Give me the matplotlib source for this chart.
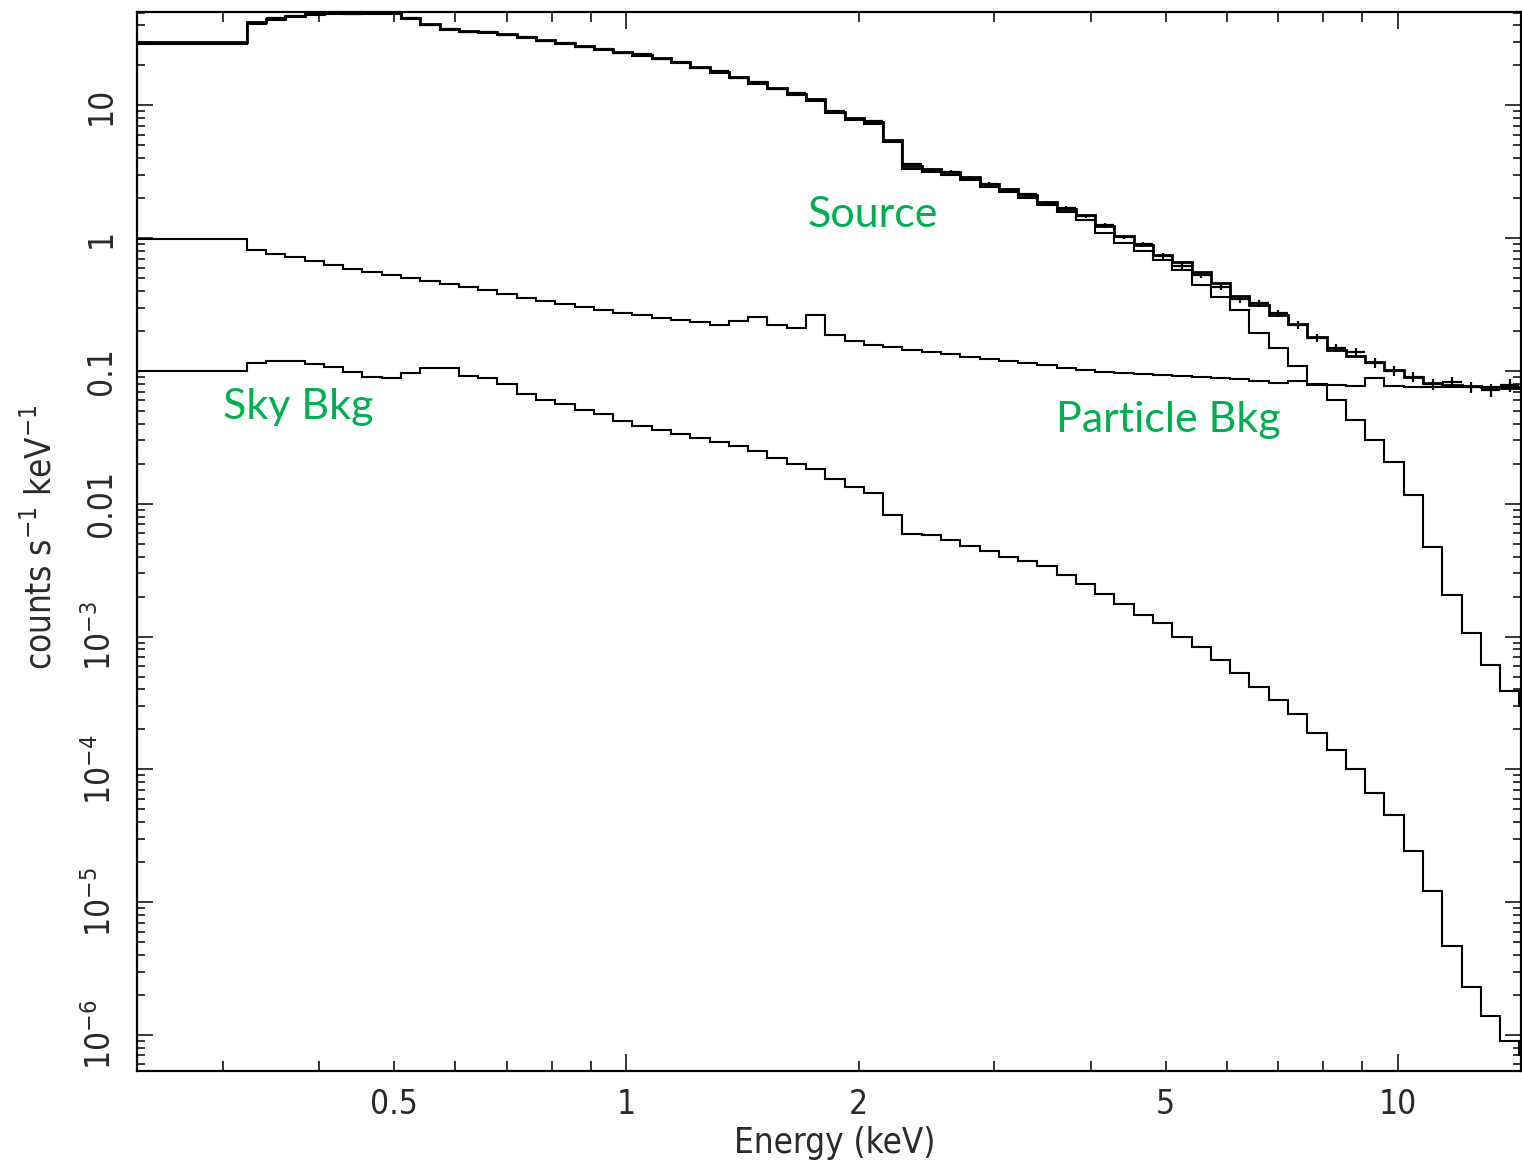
import matplotlib
matplotlib.use('Agg')
import matplotlib.pyplot as plt
import numpy as np
from matplotlib import font_manager as fm
from matplotlib.ticker import FixedLocator, FixedFormatter, NullFormatter

# ---------------- data ----------------
energy_edges = [0.232, 0.322, 0.3411, 0.3613, 0.3827, 0.4054, 0.4294, 0.4548, 0.4818,
                0.5103, 0.5406, 0.5726, 0.6065, 0.6425, 0.6805, 0.7208, 0.7636, 0.8088,
                0.8567, 0.9075, 0.9612, 1.0182, 1.0785, 1.1424, 1.2101, 1.2818, 1.3577,
                1.4382, 1.5234, 1.6137, 1.7093, 1.8106, 1.9179, 2.0315, 2.1519, 2.2794,
                2.4145, 2.5575, 2.7091, 2.8696, 3.0396, 3.2198, 3.4106, 3.6127, 3.8267,
                4.0535, 4.2937, 4.5481, 4.8176, 5.1031, 5.4055, 5.7258, 6.0651, 6.4245,
                6.8052, 7.2085, 7.6356, 8.0881, 8.5674, 9.0750, 9.6128, 10.182, 10.786,
                11.425, 12.102, 12.819, 13.579, 14.383, 15.235]

source_total = [29.9,
                42.1, 44.6, 46.9, 48.6, 49.5, 49.5, 49.5, 49.5, 45.3, 40.9,
                37.5, 36.2, 35.6, 34.4, 32.7, 31.0, 29.4, 27.9, 26.5, 25.2,
                23.9, 22.7, 21.1, 19.4, 17.8, 16.3, 14.9, 13.5, 12.1, 11.1,
                8.9, 8.0, 7.5, 5.47, 3.48, 3.31, 3.14, 2.88, 2.55, 2.34,
                2.11, 1.87, 1.66, 1.49, 1.23, 1.035, 0.886, 0.745, 0.660, 0.555,
                0.458, 0.366, 0.313, 0.263, 0.225, 0.180, 0.144, 0.130, 0.117, 0.101,
                0.090, 0.081, 0.078, 0.077, 0.0756, 0.0743, 0.0743]

source_component = [28.8,
                    41.2, 43.7, 46.1, 47.8, 48.8, 48.8, 48.9, 48.9, 44.7, 40.3,
                    36.9, 35.7, 35.1, 33.9, 32.3, 30.6, 29.0, 27.5, 26.2, 24.9,
                    23.6, 22.4, 20.8, 19.1, 17.5, 16.0, 14.6, 13.3, 11.9, 10.8,
                    8.7, 7.8, 7.3, 5.31, 3.33, 3.17, 3.00, 2.75, 2.43, 2.22,
                    2.00, 1.77, 1.57, 1.37, 1.09, 0.917, 0.798, 0.683, 0.574, 0.443,
                    0.360, 0.287, 0.193, 0.149, 0.109, 0.080, 0.0605, 0.0428, 0.0302, 0.0207,
                    0.0116, 0.0047, 0.00205, 0.00107, 0.00061, 0.00039, 0.00030]

particle_bkg = [0.98,
                0.812, 0.758, 0.719, 0.671, 0.632, 0.589, 0.559, 0.527, 0.500, 0.475,
                0.451, 0.428, 0.406, 0.379, 0.357, 0.338, 0.318, 0.302, 0.290, 0.275,
                0.263, 0.252, 0.241, 0.233, 0.223, 0.237, 0.254, 0.222, 0.210, 0.263,
                0.186, 0.168, 0.157, 0.151, 0.145, 0.139, 0.134, 0.128, 0.123, 0.119,
                0.114, 0.110, 0.105, 0.101, 0.098, 0.0965, 0.0946, 0.093, 0.0914, 0.0898,
                0.0883, 0.0868, 0.0838, 0.0810, 0.0838, 0.0783, 0.0783, 0.0769, 0.0883, 0.0769,
                0.0756, 0.0756, 0.0756, 0.0756, 0.0756, 0.0756, 0.0756]

sky_bkg = [0.0995,
           0.115, 0.119, 0.118, 0.113, 0.107, 0.0984, 0.0906, 0.0890, 0.096, 0.106,
           0.105, 0.0914, 0.0890, 0.0796, 0.0668, 0.0604, 0.0563, 0.0508, 0.0472, 0.0419,
           0.0386, 0.0359, 0.0338, 0.0312, 0.0292, 0.0272, 0.0249, 0.0221, 0.0198, 0.0182,
           0.0154, 0.0134, 0.0121, 0.0082, 0.0059, 0.0058, 0.0053, 0.0048, 0.0044, 0.0040,
           0.0037, 0.0034, 0.0029, 0.0025, 0.0021, 0.00175, 0.00146, 0.00126, 0.00100, 0.00083,
           0.00067, 0.00053, 0.00042, 0.00033, 0.00026, 1.89e-4, 1.41e-4, 1.0e-4, 6.6e-5, 4.5e-5,
           2.43e-5, 1.22e-5, 4.7e-6, 2.3e-6, 1.4e-6, 9.0e-7, 7.1e-7]

data_rate = [29.6,
             41.5, 45.2, 47.5, 48.9, 49.8, 49.2, 49.9, 49.3, 45.8, 40.5,
             37.9, 35.8, 35.9, 34.0, 33.0, 30.7, 29.7, 27.6, 26.8, 24.9,
             24.2, 22.4, 21.4, 19.2, 18.0, 16.1, 15.1, 13.3, 12.3, 11.0,
             9.0, 7.9, 7.6, 5.35, 3.6, 3.28, 3.17, 2.85, 2.58, 2.31,
             2.14, 1.85, 1.68, 1.47, 1.25, 1.02, 0.90, 0.735, 0.616, 0.527,
             0.428, 0.347, 0.324, 0.272, 0.222, 0.177, 0.149, 0.139, 0.115, 0.100,
             0.090, 0.080, 0.0824, 0.0756, 0.072, 0.0783, 0.0743]

data_frac_err = [0.008,
                 0.010, 0.010, 0.010, 0.010, 0.010, 0.010, 0.010, 0.010, 0.010, 0.010,
                 0.011, 0.011, 0.011, 0.011, 0.011, 0.011, 0.011, 0.011, 0.011, 0.011,
                 0.013, 0.013, 0.013, 0.013, 0.013, 0.013, 0.013, 0.013, 0.013, 0.013,
                 0.016, 0.017, 0.018, 0.020, 0.022, 0.022, 0.024, 0.025, 0.027, 0.028,
                 0.030, 0.032, 0.034, 0.036, 0.038, 0.040, 0.043, 0.046, 0.050, 0.052,
                 0.055, 0.058, 0.060, 0.063, 0.066, 0.070, 0.072, 0.075, 0.080, 0.085,
                 0.090, 0.095, 0.100, 0.100, 0.110, 0.110, 0.120]

x_major_ticks = [1, 10]
x_minor_ticks = [0.3, 0.4, 0.5, 0.6, 0.7, 0.8, 0.9, 2, 3, 4, 5, 6, 7, 8, 9]
x_minor_labels = {0.5: '0.5', 2: '2', 5: '5'}
y_major_ticks = [1e-6, 1e-5, 1e-4, 1e-3, 0.01, 0.1, 1, 10]
y_major_labels = [r'$10^{-6}$', r'$10^{-5}$', r'$10^{-4}$', r'$10^{-3}$', '0.01', '0.1', '1', '10']
annotations = [('Source', 808, 227), ('Sky Bkg', 223, 419), ('Particle Bkg', 1056, 432)]

# ---------------- font selection (narrow font like PGPLOT) ----------------
entries = fm.fontManager.ttflist
names = {f.name for f in entries}
if 'Liberation Sans Narrow' in names:
    AX_FAMILY, AX_STRETCH, AX_SIZE = 'Liberation Sans Narrow', 'normal', 26
    MT_PATTERN = 'Liberation Sans Narrow'
elif any(f.name == 'DejaVu Sans' and 'condensed' in str(f.stretch) for f in entries):
    AX_FAMILY, AX_STRETCH, AX_SIZE = 'DejaVu Sans', 'condensed', 24
    MT_PATTERN = 'DejaVu Sans:stretch=condensed'
else:
    AX_FAMILY, AX_STRETCH, AX_SIZE = 'DejaVu Sans', 'normal', 20
    MT_PATTERN = 'DejaVu Sans'

plt.rcParams['font.family'] = [AX_FAMILY, 'DejaVu Sans']
plt.rcParams['font.stretch'] = AX_STRETCH
plt.rcParams['mathtext.fontset'] = 'custom'
plt.rcParams['mathtext.rm'] = MT_PATTERN
plt.rcParams['mathtext.it'] = MT_PATTERN
plt.rcParams['mathtext.bf'] = MT_PATTERN
plt.rcParams['mathtext.sf'] = MT_PATTERN
TXT = '#2a2a2a'
W, H = 1522, 1165

fig = plt.figure(figsize=(W / 100, H / 100), dpi=100)
ax = fig.add_axes([137 / W, 1 - 1071 / H, (1521 - 137) / W, (1071 - 12) / H])
ax.set_xscale('log')
ax.set_yscale('log')

edges = np.array(energy_edges)
lw = 1.5
ax.stairs(sky_bkg, edges, baseline=None, color='k', lw=lw)
ax.stairs(particle_bkg, edges, baseline=None, color='k', lw=lw)
ax.stairs(source_component, edges, baseline=None, color='k', lw=lw)
ax.stairs(source_total, edges, baseline=None, color='k', lw=2.0)

lo, hi = edges[:-1], edges[1:]
xc = np.sqrt(lo * hi)
d = np.array(data_rate)
ax.errorbar(xc, d, xerr=[xc - lo, hi - xc], yerr=d * np.array(data_frac_err),
            fmt='none', ecolor='k', elinewidth=1.6, capsize=0)

ax.set_xlim(0.232, 14.45)
ax.set_ylim(5.35e-7, 50.5)

for s in ax.spines.values():
    s.set_linewidth(1.6)

ax.xaxis.set_major_locator(FixedLocator(x_major_ticks))
ax.xaxis.set_major_formatter(FixedFormatter([str(v) for v in x_major_ticks]))
ax.xaxis.set_minor_locator(FixedLocator(x_minor_ticks))
ax.xaxis.set_minor_formatter(FixedFormatter([x_minor_labels.get(v, '') for v in x_minor_ticks]))

ax.yaxis.set_major_locator(FixedLocator(y_major_ticks))
ax.yaxis.set_major_formatter(FixedFormatter(y_major_labels))
y_minor = [m * 10.0 ** e for e in range(-7, 2) for m in range(2, 10)]
ax.yaxis.set_minor_locator(FixedLocator(y_minor))
ax.yaxis.set_minor_formatter(NullFormatter())

ax.tick_params(which='both', direction='in', top=True, right=True, colors='k',
               labelcolor=TXT, labelsize=AX_SIZE, width=1.1)
ax.tick_params(axis='x', which='major', length=12.5, pad=12)
ax.tick_params(axis='x', which='minor', length=7, pad=12)
ax.tick_params(axis='y', which='major', length=11.5, pad=14)
ax.tick_params(axis='y', which='minor', length=5.5)
for lab in ax.get_yticklabels():
    lab.set_rotation(90)
    lab.set_va('center')

fig.text(835 / W, 1 - 1143 / H, 'Energy (keV)', ha='center', va='center',
         fontsize=AX_SIZE + 1, color=TXT)
fig.text(40 / W, 1 - 537 / H, r'counts s$^{-1}$ keV$^{-1}$', ha='center', va='center',
         rotation=90, fontsize=AX_SIZE + 1, color=TXT)

for label, px, py in annotations:
    fig.text(px / W, 1 - py / H, label, ha='left', va='baseline',
             fontsize=31, color='#00B050', family=['Lato', 'DejaVu Sans'],
             fontstretch='normal')

fig.savefig('out.png', dpi=100)
